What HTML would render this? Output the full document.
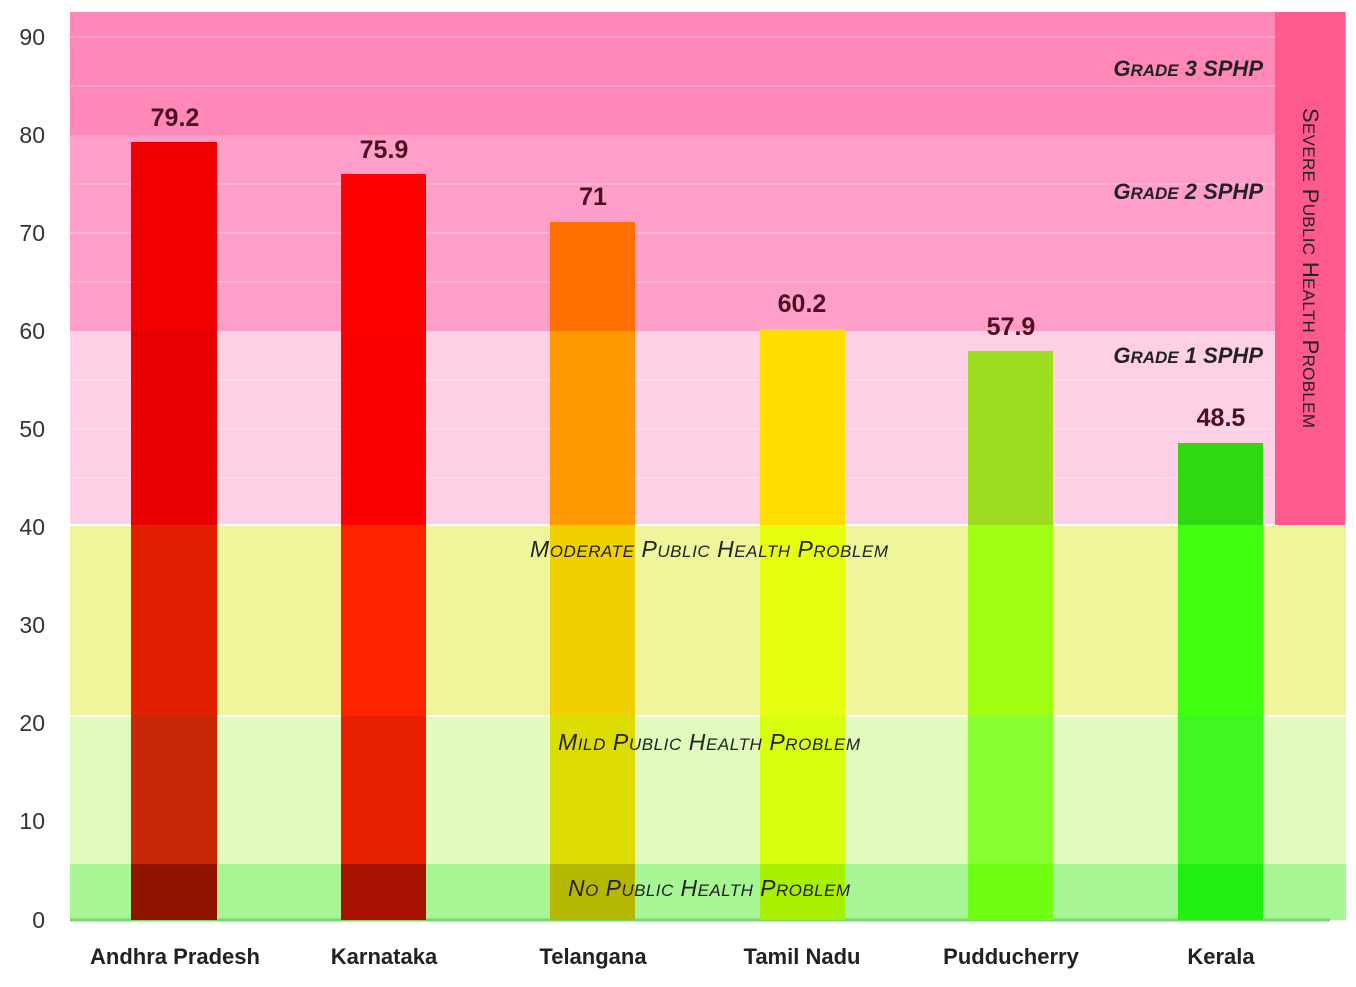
<!DOCTYPE html><html><head><style>body{margin:0;background:#fff}svg{display:block}</style></head><body>
<svg width="1356" height="987" xmlns="http://www.w3.org/2000/svg" font-family="Liberation Sans, sans-serif">
<rect x="70" y="12" width="1276" height="123" fill="#ff88b8"/>
<rect x="70" y="135" width="1276" height="196" fill="#ff9ec8"/>
<rect x="70" y="331" width="1276" height="194" fill="#fdd0e6"/>
<rect x="70" y="525" width="1276" height="191" fill="#eef59a"/>
<rect x="70" y="716" width="1276" height="148" fill="#e0fbbc"/>
<rect x="70" y="864" width="1276" height="56" fill="#a8f596"/>
<g stroke="#ffffff" stroke-opacity="0.3" stroke-width="1.5">
<line x1="70" x2="1346" y1="37" y2="37"/><line x1="70" x2="1346" y1="86" y2="86"/><line x1="70" x2="1346" y1="184" y2="184"/><line x1="70" x2="1346" y1="233" y2="233"/><line x1="70" x2="1346" y1="282" y2="282"/><line x1="70" x2="1346" y1="380" y2="380"/><line x1="70" x2="1346" y1="429" y2="429"/><line x1="70" x2="1346" y1="478" y2="478"/>
</g>
<line x1="70" x2="1346" y1="525" y2="525" stroke="#fff" stroke-width="2"/>
<line x1="70" x2="1346" y1="716" y2="716" stroke="#fff" stroke-width="2"/>
<line x1="70" x2="1330" y1="920" y2="920" stroke="#7ad870" stroke-width="3"/>
<rect x="1275" y="12" width="70" height="513" fill="#ff5a8c"/>
<rect x="131" y="142" width="86" height="189" fill="#f00000"/>
<rect x="131" y="331" width="86" height="194" fill="#e80000"/>
<rect x="131" y="525" width="86" height="191" fill="#e02000"/>
<rect x="131" y="716" width="86" height="148" fill="#c82808"/>
<rect x="131" y="864" width="86" height="56" fill="#901400"/>
<rect x="341" y="174" width="85" height="157" fill="#ff0000"/>
<rect x="341" y="331" width="85" height="194" fill="#fa0000"/>
<rect x="341" y="525" width="85" height="191" fill="#ff2400"/>
<rect x="341" y="716" width="85" height="148" fill="#e82000"/>
<rect x="341" y="864" width="85" height="56" fill="#a81000"/>
<rect x="550" y="222" width="85" height="109" fill="#ff7000"/>
<rect x="550" y="331" width="85" height="194" fill="#ff9a00"/>
<rect x="550" y="525" width="85" height="191" fill="#f0d000"/>
<rect x="550" y="716" width="85" height="148" fill="#dcdc00"/>
<rect x="550" y="864" width="85" height="56" fill="#b4b800"/>
<rect x="760" y="329" width="85" height="196" fill="#ffdd00"/>
<rect x="760" y="525" width="85" height="191" fill="#e6ff10"/>
<rect x="760" y="716" width="85" height="148" fill="#d8ff10"/>
<rect x="760" y="864" width="85" height="56" fill="#a8f000"/>
<rect x="968" y="351" width="85" height="174" fill="#9edc20"/>
<rect x="968" y="525" width="85" height="191" fill="#a0ff10"/>
<rect x="968" y="716" width="85" height="148" fill="#88ff30"/>
<rect x="968" y="864" width="85" height="56" fill="#70ff10"/>
<rect x="1178" y="443" width="85" height="82" fill="#30d810"/>
<rect x="1178" y="525" width="85" height="191" fill="#40ff10"/>
<rect x="1178" y="716" width="85" height="148" fill="#40f820"/>
<rect x="1178" y="864" width="85" height="56" fill="#20f010"/>
<g font-size="23" fill="#333" text-anchor="end">
<text x="45" y="45">90</text><text x="45" y="143">80</text><text x="45" y="241">70</text><text x="45" y="339">60</text><text x="45" y="437">50</text><text x="45" y="535">40</text><text x="45" y="633">30</text><text x="45" y="731">20</text><text x="45" y="829">10</text><text x="45" y="928">0</text>
</g>
<g font-size="25" font-weight="bold" fill="#4a1020" text-anchor="middle">
<text x="175" y="126">79.2</text><text x="384" y="158">75.9</text><text x="593" y="205">71</text><text x="802" y="312">60.2</text><text x="1011" y="335">57.9</text><text x="1221" y="426">48.5</text>
</g>
<g font-size="22" font-weight="bold" fill="#222" text-anchor="middle">
<text x="175" y="964">Andhra Pradesh</text><text x="384" y="964">Karnataka</text><text x="593" y="964">Telangana</text><text x="802" y="964">Tamil Nadu</text><text x="1011" y="964">Pudducherry</text><text x="1221" y="964">Kerala</text>
</g>
<g font-size="22" font-style="italic" font-weight="bold" fill="#222" text-anchor="end">
<text x="1263" y="76">G<tspan font-size="17">RADE</tspan> 3 SPHP</text>
<text x="1263" y="199">G<tspan font-size="17">RADE</tspan> 2 SPHP</text>
<text x="1263" y="363">G<tspan font-size="17">RADE</tspan> 1 SPHP</text>
</g>
<g font-size="23" font-style="italic" fill="#222" text-anchor="middle">
<text x="709" y="557" textLength="358">M<tspan font-size="17">ODERATE</tspan> P<tspan font-size="17">UBLIC</tspan> H<tspan font-size="17">EALTH</tspan> P<tspan font-size="17">ROBLEM</tspan></text>
<text x="709" y="750" textLength="302">M<tspan font-size="17">ILD</tspan> P<tspan font-size="17">UBLIC</tspan> H<tspan font-size="17">EALTH</tspan> P<tspan font-size="17">ROBLEM</tspan></text>
<text x="709" y="896" textLength="282">N<tspan font-size="17">O</tspan> P<tspan font-size="17">UBLIC</tspan> H<tspan font-size="17">EALTH</tspan> P<tspan font-size="17">ROBLEM</tspan></text>
</g>
<text transform="translate(1303,268) rotate(90)" font-size="22" fill="#222" text-anchor="middle" textLength="320">S<tspan font-size="17">EVERE</tspan> P<tspan font-size="17">UBLIC</tspan> H<tspan font-size="17">EALTH</tspan> P<tspan font-size="17">ROBLEM</tspan></text>
</svg>
</body></html>
